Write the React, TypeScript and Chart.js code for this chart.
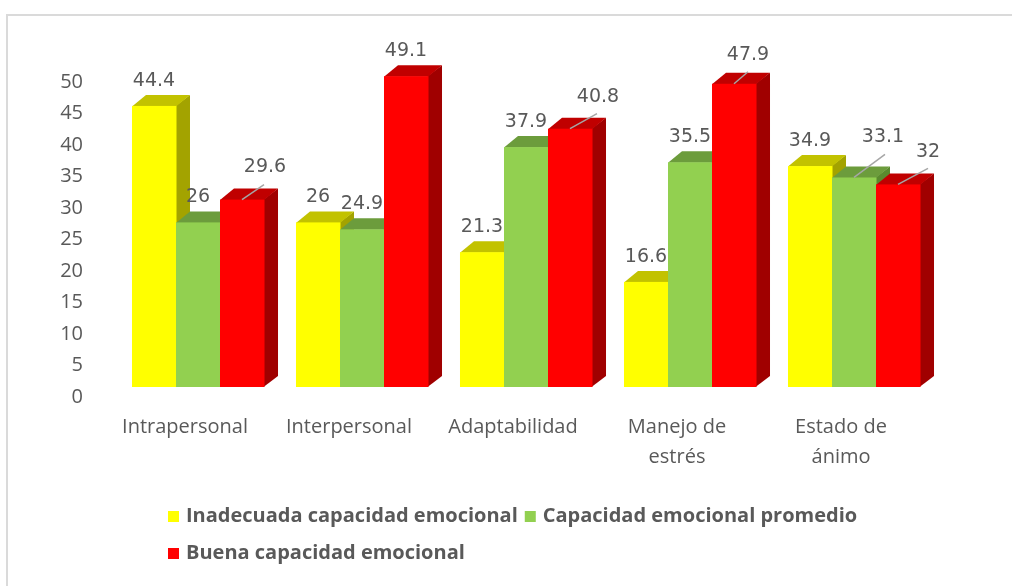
import React, { useEffect, useRef } from "react";
import { Chart, registerables } from "chart.js";

Chart.register(...registerables);

// ---- data ----
const categories: string[][] = [
  ["Intrapersonal"],
  ["Interpersonal"],
  ["Adaptabilidad"],
  ["Manejo de", "estrés"],
  ["Estado de", "ánimo"],
];
const seriesNames = [
  "Inadecuada capacidad emocional",
  "Capacidad emocional promedio",
  "Buena capacidad emocional",
];
const inadecuada = [44.4, 26, 21.3, 16.6, 34.9];
const promedio = [26, 24.9, 37.9, 35.5, 33.1];
const buena = [29.6, 49.1, 40.8, 47.9, 32];
const yTickMin = 0;
const yTickMax = 50;
const yTickStep = 5;

// ---- styles ----
const FRONT = ["#FFFF00", "#92D050", "#FF0000"];
const TOP = ["#C2C200", "#6C9C3C", "#C00000"];
const SIDE = ["#A3A300", "#5A8A2E", "#A00000"];
const DX = 14;
const DY = -11;
const TEXT = "#595959";
// label placement tweaks (dataset, index) -> [lineDx, lineDy, labelDx, labelDy]
const leaderLabels: Record<string, number[]> = {
  "2-0": [22, -15, 23, -33],
  "2-2": [27, -15, 28, -32],
  "2-3": [14, -12, 14, -29],
  "1-4": [31, -23, 29, -40],
  "2-4": [30, -16, 30, -32],
};

const bar3d = {
  id: "bar3d",
  beforeDraw(chart: any) {
    const ctx = chart.ctx;
    ctx.save();
    ctx.strokeStyle = "#DADADA";
    ctx.lineWidth = 2;
    ctx.strokeRect(7, 15, 1200, 1000);
    ctx.restore();
  },
  beforeDatasetsDraw(chart: any) {
    const ctx = chart.ctx;
    const n = chart.data.labels.length;
    const dsCount = chart.data.datasets.length;
    ctx.save();
    for (let i = 0; i < n; i++) {
      for (let d = 0; d < dsCount; d++) {
        const el = chart.getDatasetMeta(d).data[i];
        const { x, y, base, width } = el.getProps(["x", "y", "base", "width"], true);
        const l = x - width / 2;
        const r = x + width / 2;
        ctx.fillStyle = SIDE[d];
        ctx.beginPath();
        ctx.moveTo(r - 0.5, y);
        ctx.lineTo(r + DX, y + DY);
        ctx.lineTo(r + DX, base + DY);
        ctx.lineTo(r - 0.5, base);
        ctx.closePath();
        ctx.fill();
        ctx.fillStyle = TOP[d];
        ctx.beginPath();
        ctx.moveTo(l, y + 0.5);
        ctx.lineTo(l + DX, y + DY);
        ctx.lineTo(r + DX, y + DY);
        ctx.lineTo(r, y + 0.5);
        ctx.closePath();
        ctx.fill();
        ctx.fillStyle = FRONT[d];
        ctx.fillRect(l, y, width + 0.5, base - y);
      }
    }
    // data labels
    ctx.font = "19px 'DejaVu Sans'";
    ctx.textAlign = "center";
    ctx.textBaseline = "middle";
    for (let d = 0; d < dsCount; d++) {
      const meta = chart.getDatasetMeta(d);
      const values = chart.data.datasets[d].data;
      meta.data.forEach((el: any, i: number) => {
        const { x, y } = el.getProps(["x", "y"], true);
        const key = `${d}-${i}`;
        const lead = leaderLabels[key];
        if (lead) {
          ctx.strokeStyle = "#A6A6A6";
          ctx.lineWidth = 1.5;
          ctx.beginPath();
          ctx.moveTo(x, y);
          ctx.lineTo(x + lead[0], y + lead[1]);
          ctx.stroke();
          ctx.fillStyle = TEXT;
          ctx.fillText(String(values[i]), x + lead[2], y + lead[3]);
        } else {
          ctx.fillStyle = TEXT;
          ctx.fillText(String(values[i]), x, y - 25);
        }
      });
    }
    ctx.restore();
    return false;
  },
  afterDraw(chart: any) {
    // legend
    const ctx = chart.ctx;
    ctx.save();
    ctx.font = "bold 20px 'Open Sans'";
    ctx.textBaseline = "middle";
    ctx.textAlign = "left";
    const ds = chart.data.datasets;
    const rows = [[0, 1], [2]];
    const rowY = [516, 553];
    rows.forEach((row, ri) => {
      let x = 168;
      row.forEach((d) => {
        ctx.fillStyle = ds[d].backgroundColor;
        ctx.fillRect(x, rowY[ri] - 5, 11, 11);
        ctx.fillStyle = TEXT;
        ctx.fillText(ds[d].label, x + 18, rowY[ri]);
        x += 18 + ctx.measureText(ds[d].label).width + 7;
      });
    });
    ctx.restore();
  },
};

export default function App() {
  const ref = useRef<HTMLCanvasElement>(null);
  useEffect(() => {
    document.body.style.margin = "0";
    const chart = new Chart(ref.current!, {
      type: "bar",
      data: {
        labels: categories,
        datasets: [
          { label: seriesNames[0], data: inadecuada, backgroundColor: FRONT[0], yAxisID: "yb" },
          { label: seriesNames[1], data: promedio, backgroundColor: FRONT[1], yAxisID: "yb" },
          { label: seriesNames[2], data: buena, backgroundColor: FRONT[2], yAxisID: "yb" },
        ],
      },
      options: {
        responsive: false,
        animation: false,
        layout: { padding: { top: 82, right: 76, bottom: 0, left: 0 } },
        datasets: { bar: { categoryPercentage: 0.805, barPercentage: 1 } },
        plugins: { legend: { display: false }, tooltip: { enabled: false } },
        scales: {
          x: {
            grid: { display: false, drawTicks: false },
            border: { display: false },
            ticks: {
              color: TEXT,
              font: { family: "'Open Sans'", size: 20, lineHeight: 1.5 },
              padding: 15,
              labelOffset: -13,
              maxRotation: 0,
              autoSkip: false,
            },
            afterFit: (s: any) => {
              s.height = 189;
            },
          },
          y: {
            position: "left",
            min: yTickMin,
            max: yTickMax,
            grid: { display: false, drawTicks: false },
            border: { display: false },
            ticks: {
              stepSize: yTickStep,
              color: TEXT,
              font: { family: "'Open Sans'", size: 20 },
              padding: 33,
            },
            afterFit: (s: any) => {
              s.width = 116;
            },
          },
          yb: {
            display: false,
            min: -1.58,
            max: 48.18,
          },
        },
      },
      plugins: [bar3d],
    });
    return () => chart.destroy();
  }, []);
  return <canvas ref={ref} width={1012} height={586} />;
}
